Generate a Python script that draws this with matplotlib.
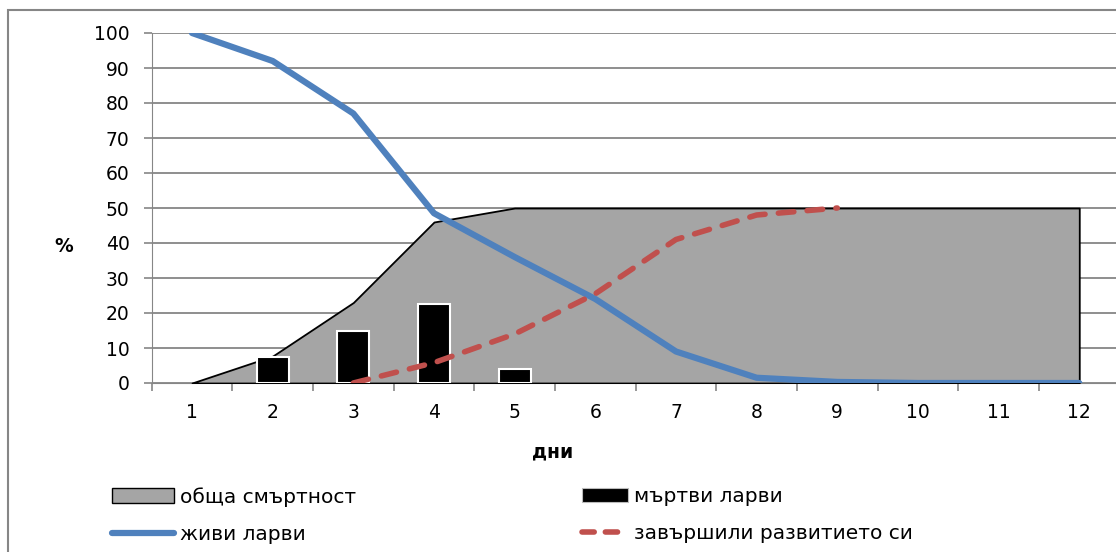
import numpy as np
import matplotlib.pyplot as plt
from matplotlib.patches import Patch, Rectangle
from matplotlib.lines import Line2D

plt.rcParams['font.family'] = ['DejaVu Sans']

# data
days = list(range(1, 13))
total_mortality = [0, 7.7, 23, 46, 50, 50, 50, 50, 50, 50, 50, 50]
bar_days = [2, 3, 4, 5]
dead_larvae = [7.5, 15, 22.5, 4]
live_larvae = [100, 92, 77, 48.5, 36, 24, 9, 1.5, 0.3, 0, 0, 0]
developed = [np.nan, np.nan, 0, 5.8, 14, 25.5, 41, 48, 50, np.nan, np.nan, np.nan]
yticks = list(range(0, 101, 10))

labels = ['обща смъртност', 'живи ларви', 'мъртви ларви', 'завършили развитието си']

W, H = 1116, 552
fig = plt.figure(figsize=(W / 100, H / 100), dpi=100)
ax = fig.add_axes([151.7 / W, 1 - 383 / H, (1119.6 - 151.7) / W, 350 / H])

grid_c = '#868686'
ax.fill_between(days, total_mortality, color='#A5A5A5', edgecolor='black', lw=1.3, zorder=2)
ax.bar(bar_days, dead_larvae, width=0.4, color='black', edgecolor='white', lw=1.5, zorder=3)
ax.plot(days, live_larvae, color='#4F81BD', lw=4.5, solid_capstyle='round', zorder=4)
ax.plot(days, developed, color='#C0504D', lw=4, dashes=(2.8, 2.4),
        dash_capstyle='round', zorder=5)

ax.set_xlim(0.5, 12.5)
ax.set_ylim(0, 100)
ax.set_yticks(yticks)
ax.set_xticks(days)
ax.set_xticks(np.arange(0.5, 12.6, 1), minor=True)
ax.yaxis.grid(True, color=grid_c, lw=1.3, zorder=0)
ax.set_axisbelow(True)
for s in ['top', 'right']:
    ax.spines[s].set_visible(False)
ax.spines['left'].set_color(grid_c)
ax.spines['bottom'].set_color(grid_c)
ax.spines['bottom'].set_zorder(1)
ax.tick_params(axis='y', length=6, width=1.2, color=grid_c, pad=10, labelsize=13.5)
ax.tick_params(axis='x', which='major', length=0, pad=14.5, labelsize=13.5)
ax.tick_params(axis='x', which='minor', length=6, width=1.2, color=grid_c)

fig.text(64 / W, 1 - 247 / H, '%', fontsize=13.5, fontweight='bold', ha='center', va='center')
fig.text(553 / W, 1 - 452 / H, 'дни', fontsize=13.5, fontweight='bold', ha='center', va='center')

# chart frame
fig.patches.append(Rectangle((8 / W, -0.1), 1.2, (H - 10) / H + 0.1, transform=fig.transFigure,
                             fill=False, edgecolor=grid_c, lw=1.5))

h_area = Patch(facecolor='#A5A5A5', edgecolor='black', lw=1)
h_live = Line2D([], [], color='#4F81BD', lw=4.5, solid_capstyle='round')
h_bar = Patch(facecolor='black', edgecolor='#BBBBBB', lw=0.8)
h_dev = Line2D([], [], color='#C0504D', lw=4, dashes=(2.2, 2.0), dash_capstyle='round')

leg_kw = dict(frameon=False, fontsize=14.5, borderpad=0, borderaxespad=0,
              handletextpad=0.3, labelspacing=0.9, loc='upper left', handleheight=0.75)
leg1 = fig.legend([h_area, h_live], labels[:2], bbox_to_anchor=(112 / W, 1 - 487 / H),
                  handlelength=3.1, **leg_kw)
leg2 = fig.legend([h_bar, h_dev], labels[2:], bbox_to_anchor=(582 / W, 1 - 487 / H),
                  handlelength=2.3, **leg_kw)

fig.savefig('out.png', dpi=100)
